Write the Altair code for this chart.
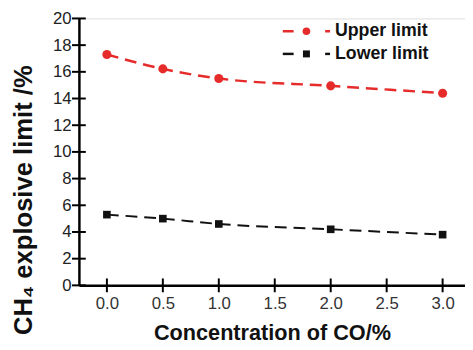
import altair as alt
import pandas as pd

co = [0.0, 0.5, 1.0, 2.0, 3.0]
upper = [17.3, 16.22, 15.5, 14.95, 14.4]
lower = [5.3, 5.0, 4.6, 4.2, 3.8]
x_ticks = [0.0, 0.5, 1.0, 1.5, 2.0, 2.5, 3.0]
y_ticks = [0, 2, 4, 6, 8, 10, 12, 14, 16, 18, 20]
series = ["Upper limit", "Lower limit"]
colors = ["#e62b2b", "#111111"]

W, H = 392, 271
FONT = "Liberation Sans"
X0, X1 = -0.25, 3.2

df_u = pd.DataFrame({"x": co, "y": upper})
df_l = pd.DataFrame({"x": co, "y": lower})
xt = pd.DataFrame({"x": x_ticks})
yt = pd.DataFrame({"y": y_ticks})

xs = alt.Scale(domain=[X0, X1], nice=False, zero=False)
ys = alt.Scale(domain=[0, 20], nice=False)

xaxis = alt.Axis(orient="bottom", values=x_ticks, format=".1f", ticks=False, labelPadding=10,
                 labelFontSize=17, labelColor="#333", labelFont=FONT, labelOverlap=False,
                 domainColor="black", domainWidth=2.5, grid=False,
                 title="Concentration of CO/%", titleFont=FONT, titleFontSize=22,
                 titleFontWeight="bold", titleBaseline="middle", titleY=48,
                 titleColor="#111")
yaxis = alt.Axis(orient="left", values=y_ticks, format="d", ticks=False, labelPadding=8,
                 labelFontSize=17, labelColor="#222", labelFont=FONT, labelOverlap=False,
                 domainColor="black", domainWidth=2.5, grid=False,
                 title="CH₄ explosive limit /%", titleFont=FONT, titleFontSize=26,
                 titleFontWeight="bold", titleAngle=270, titleBaseline="middle",
                 titleAlign="center", titleX=-56, titleY=184, titleColor="#111")

base_axes = alt.Chart(df_u).mark_point(opacity=0).encode(
    x=alt.X("x:Q", scale=xs, axis=xaxis),
    y=alt.Y("y:Q", scale=ys, axis=yaxis),
)

# inward ticks drawn as tick marks positioned through the scales (outer half clipped)
xtick_marks = alt.Chart(xt).mark_tick(color="black", thickness=2, size=14,
                                      orient="vertical", opacity=1).encode(
    x=alt.X("x:Q", scale=xs, axis=None), y=alt.YDatum(0, scale=ys, axis=None))
ytick_marks = alt.Chart(yt).mark_tick(color="black", thickness=2, size=14,
                                      orient="horizontal", opacity=1).encode(
    y=alt.Y("y:Q", scale=ys, axis=None), x=alt.XDatum(X0, scale=xs, axis=None))

def series_layers(df, color, shape, size, sw):
    line = alt.Chart(df).mark_line(color=color, strokeDash=[12, 7], strokeWidth=sw,
                                   interpolate="monotone").encode(
        x=alt.X("x:Q", scale=xs, axis=None), y=alt.Y("y:Q", scale=ys, axis=None))
    pts = alt.Chart(df).mark_point(shape=shape, filled=True, color=color, size=size,
                                   opacity=1).encode(
        x=alt.X("x:Q", scale=xs, axis=None), y=alt.Y("y:Q", scale=ys, axis=None))
    return line + pts

up = series_layers(df_u, colors[0], "circle", 85, 2.5)
lo = series_layers(df_l, colors[1], "square", 60, 2)

leg = pd.DataFrame({"s": [0]})
def legend_entry(name, color, shape, size, ypos):
    d1 = alt.Chart(leg).mark_rule(color=color, strokeWidth=2.5).encode(
        x=alt.value(207), x2=alt.value(218), y=alt.value(ypos))
    d2 = alt.Chart(leg).mark_rule(color=color, strokeWidth=2.5).encode(
        x=alt.value(250), x2=alt.value(255), y=alt.value(ypos))
    m = alt.Chart(leg).mark_point(shape=shape, filled=True, color=color, size=size,
                                  opacity=1).encode(x=alt.value(231), y=alt.value(ypos))
    t = alt.Chart(leg).mark_text(text=name, align="left", baseline="middle",
                                 font=FONT, fontSize=18, fontWeight="bold",
                                 color="#111").encode(x=alt.value(260), y=alt.value(ypos))
    return d1 + d2 + m + t

legend = legend_entry(series[0], colors[0], "circle", 60, 13) + \
    legend_entry(series[1], colors[1], "square", 50, 36)

chart = alt.layer(base_axes, xtick_marks, ytick_marks, up, lo, legend).resolve_axis(
    x="independent", y="independent"
).properties(
    width=W, height=H,
    autosize=alt.AutoSizeParams(type="none"),
    padding={"left": 72, "top": 8, "right": 0, "bottom": 62},
).configure_view(stroke=None, clip=True).configure(background="white")

chart.save("out.html", embed_options={"renderer": "svg", "actions": False})
